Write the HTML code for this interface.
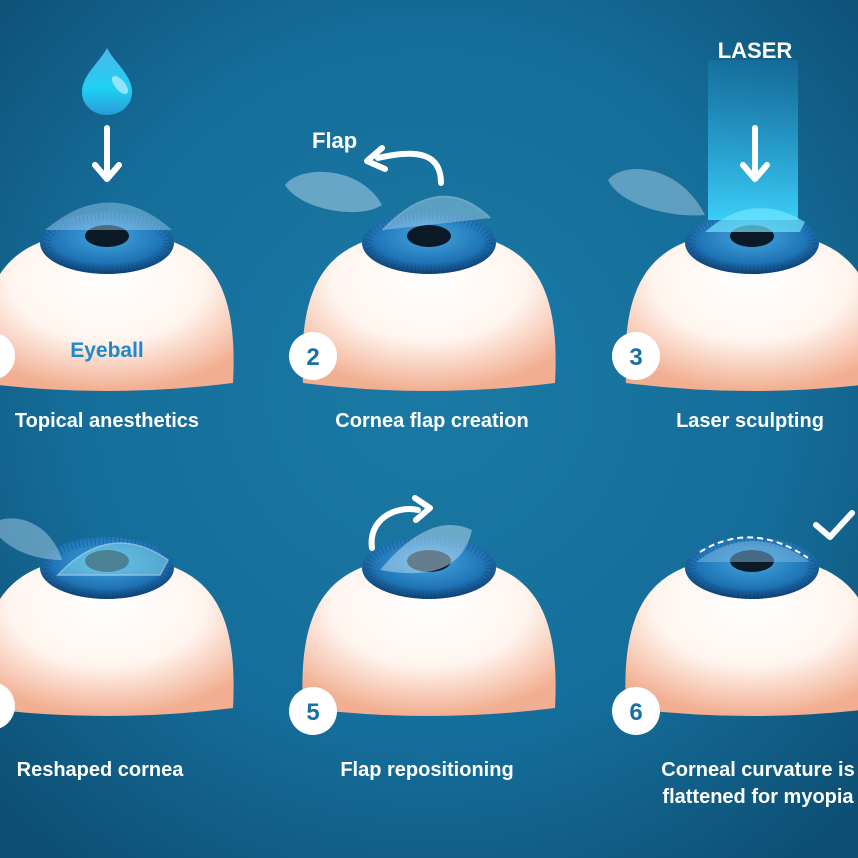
<!DOCTYPE html>
<html><head><meta charset="utf-8"><style>
html,body{margin:0;padding:0;width:858px;height:858px;overflow:hidden}
text{font-family:"Liberation Sans",sans-serif;font-weight:bold}
</style></head><body>
<svg width="858" height="858" viewBox="0 0 858 858" xmlns="http://www.w3.org/2000/svg">
<defs>
<radialGradient id="bg" cx="50%" cy="45%" r="70%">
<stop offset="0" stop-color="#1b7aa5"/><stop offset="0.6" stop-color="#156d99"/><stop offset="1" stop-color="#0d4f74"/>
</radialGradient>
<radialGradient id="dome" cx="50%" cy="30%" r="70%">
<stop offset="0" stop-color="#ffffff"/><stop offset="0.55" stop-color="#fff5ef"/><stop offset="1" stop-color="#f2ae90"/>
</radialGradient>
<radialGradient id="iris" cx="50%" cy="40%" r="60%">
<stop offset="0" stop-color="#45a6e0"/><stop offset="0.7" stop-color="#1f74b5"/><stop offset="1" stop-color="#0d3f73"/>
</radialGradient>
<linearGradient id="drop" x1="0" y1="0" x2="0" y2="1"><stop offset="0" stop-color="#4fb5ea"/><stop offset="0.6" stop-color="#1fd0f2"/><stop offset="1" stop-color="#2a9bd8"/></linearGradient>
<linearGradient id="beam" x1="0" y1="0" x2="0" y2="1"><stop offset="0" stop-color="#2bb0ee" stop-opacity="0.15"/><stop offset="1" stop-color="#3fd8ff" stop-opacity="0.9"/></linearGradient>
<g id="eye">
<path d="M-126,156 C-132,45 -95,5 0,5 C95,5 132,45 126,156 Q0,172 -126,156 Z" fill="url(#dome)"/>
<ellipse cx="0" cy="16" rx="67" ry="31" fill="url(#iris)"/>
<ellipse cx="0" cy="16" rx="60" ry="27" fill="none" stroke="#0d3f73" stroke-width="8" stroke-dasharray="1 3" opacity="0.35"/>
<ellipse cx="0" cy="9" rx="22" ry="11" fill="#0b1a26"/>
</g>
</defs>
<rect width="858" height="858" fill="url(#bg)"/>

<use href="#eye" x="107" y="227"/>
<path d="M45,230 Q110,175 172,230 Z" fill="#9fd0ee" opacity="0.45"/>
<path d="M107,48 C100,62 82,75 82,92 C82,106 94,115 107,115 C120,115 132,106 132,92 C132,75 114,62 107,48 Z" fill="url(#drop)"/>
<ellipse cx="120" cy="85" rx="5" ry="11" transform="rotate(-40 120 85)" fill="#bfefff" opacity="0.7"/>
<line x1="107" y1="128" x2="107" y2="175" stroke="#fff" stroke-width="6" stroke-linecap="round"/>
<path d="M95,165 L107,179 L119,165" fill="none" stroke="#fff" stroke-width="6" stroke-linecap="round" stroke-linejoin="round"/>
<text x="107" y="357" font-size="21" fill="#1f8ac7" text-anchor="middle">Eyeball</text>
<circle cx="-9" cy="356" r="24" fill="#fff"/>

<use href="#eye" x="429" y="227"/>
<path d="M285,185 C300,165 360,165 382,205 C360,220 300,210 285,185 Z" fill="#b7d9ef" opacity="0.5"/>
<path d="M383,230 Q440,170 490,218" fill="#bde2f5" opacity="0.4" stroke="#dff3ff" stroke-width="2"/>
<text x="312" y="148" font-size="22" fill="#fff">Flap</text>
<path d="M441,183 C441,155 420,148 378,158" fill="none" stroke="#fff" stroke-width="6" stroke-linecap="round"/>
<path d="M382,148 L367,161 L385,169" fill="none" stroke="#fff" stroke-width="6" stroke-linecap="round" stroke-linejoin="round"/>
<circle cx="313" cy="356" r="24" fill="#fff"/>
<text x="313" y="365" font-size="24" fill="#1a70a3" text-anchor="middle">2</text>

<use href="#eye" x="752" y="227"/>
<rect x="708" y="60" width="90" height="160" fill="url(#beam)"/>
<path d="M608,180 C625,160 680,165 705,215 C670,218 620,205 608,180 Z" fill="#b7d9ef" opacity="0.45"/>
<path d="M705,232 Q752,190 805,222 L800,232 Z" fill="#6fe6ff" opacity="0.7"/>
<text x="755" y="58" font-size="22" fill="#fff" text-anchor="middle">LASER</text>
<line x1="755" y1="128" x2="755" y2="175" stroke="#fff" stroke-width="6" stroke-linecap="round"/>
<path d="M743,165 L755,179 L767,165" fill="none" stroke="#fff" stroke-width="6" stroke-linecap="round" stroke-linejoin="round"/>
<circle cx="636" cy="356" r="24" fill="#fff"/>
<text x="636" y="365" font-size="24" fill="#1a70a3" text-anchor="middle">3</text>

<g font-size="20" fill="#fff" text-anchor="middle">
<text x="107" y="427">Topical anesthetics</text>
<text x="432" y="427">Cornea flap creation</text>
<text x="750" y="427">Laser sculpting</text>
<text x="100" y="776">Reshaped cornea</text>
<text x="427" y="776">Flap repositioning</text>
<text x="758" y="776">Corneal curvature is</text>
<text x="758" y="803">flattened for myopia</text>
</g>

<use href="#eye" x="107" y="552"/>
<path d="M-10,525 C10,510 50,520 62,560 C35,560 5,550 -10,525 Z" fill="#b7d9ef" opacity="0.45"/>
<path d="M58,575 Q110,520 168,560 L160,575 Z" fill="#7fd7ec" opacity="0.55" stroke="#d6f3ff" stroke-width="1.5"/>
<circle cx="-9" cy="706" r="24" fill="#fff"/>

<use href="#eye" x="429" y="552"/>
<path d="M380,570 Q430,510 472,530 Q460,585 380,570 Z" fill="#bfe0f3" opacity="0.5"/>
<path d="M372,548 C368,520 395,505 418,510" fill="none" stroke="#fff" stroke-width="6" stroke-linecap="round"/>
<path d="M415,498 L430,508 L416,520" fill="none" stroke="#fff" stroke-width="6" stroke-linecap="round" stroke-linejoin="round"/>
<circle cx="313" cy="711" r="24" fill="#fff"/>
<text x="313" y="720" font-size="24" fill="#1a70a3" text-anchor="middle">5</text>

<use href="#eye" x="752" y="552"/>
<path d="M696,562 Q752,520 810,562 Z" fill="#7fb9e0" opacity="0.5"/>
<path d="M700,552 Q752,520 808,558" fill="none" stroke="#fff" stroke-width="2" stroke-dasharray="6 4"/>
<path d="M816,525 L830,537 L852,513" fill="none" stroke="#fff" stroke-width="6" stroke-linecap="round" stroke-linejoin="round"/>
<circle cx="636" cy="711" r="24" fill="#fff"/>
<text x="636" y="720" font-size="24" fill="#1a70a3" text-anchor="middle">6</text>
</svg>
</body></html>
